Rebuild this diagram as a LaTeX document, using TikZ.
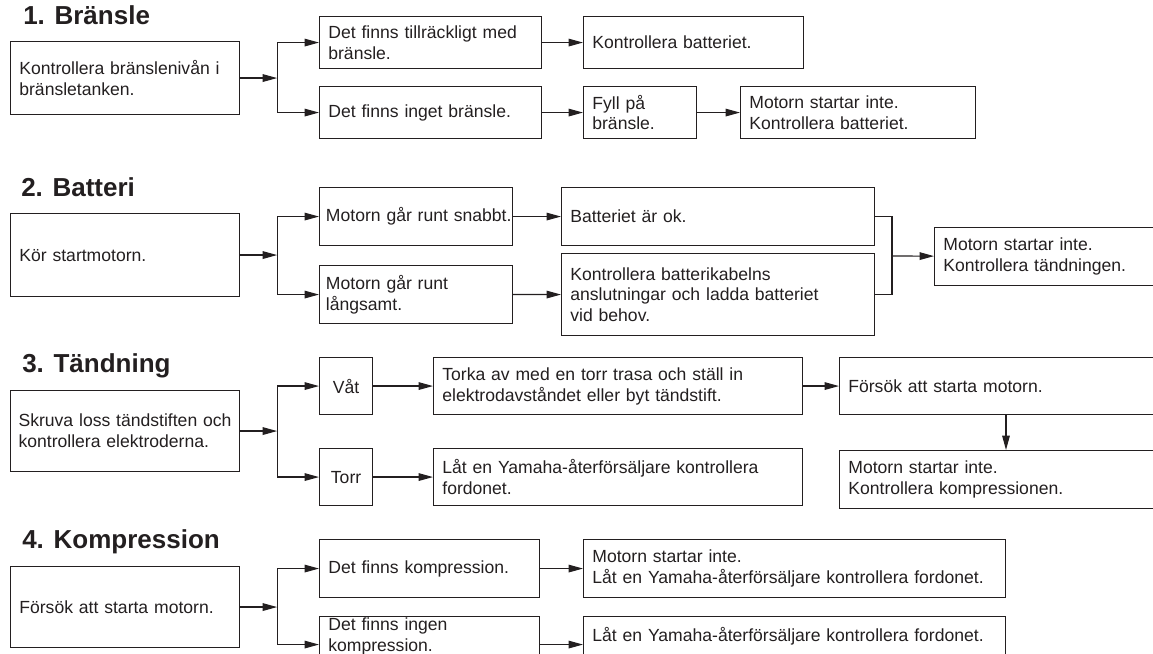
\documentclass[tikz,border=0pt]{standalone}
\usepackage{fontspec}
\setmainfont{Liberation Sans}
\usetikzlibrary{arrows.meta}
\definecolor{ink}{RGB}{35,31,32}
\tikzset{
    box/.style = {rectangle, draw=ink, line width=0.8pt, anchor=north west, align=left, inner xsep=0.22cm, inner ysep=0pt, text=ink, font=\fontsize{12.5}{14.8}\selectfont},
    heading/.style = {anchor=base west, inner sep=0pt, text=ink, font=\fontsize{18.5}{22}\selectfont\bfseries},
    arrow/.style = {draw=ink, line width=0.8pt, -{Triangle[length=0.36cm, width=0.19cm]}},
    line/.style = {draw=ink, line width=0.8pt}
}

\begin{document}
\begin{tikzpicture}
    \useasboundingbox (0, 0) rectangle (28.825, -16.35);
    \clip (0, 0) rectangle (28.825, -16.35);

    % 1. Bränsle
    \node (fuelhead) [heading] at (0.575, -0.625) {1. Bränsle};
    \node (fuelcheck) [box, text width=5.285cm, minimum height=1.825cm] at (0.25, -1.025) {Kontrollera bränslenivån i\\bränsletanken.};
    \node (fuelok) [box, text width=5.11cm, minimum height=1.3cm] at (7.975, -0.4) {Det finns tillräckligt med\\bränsle.};
    \node (fuelnone) [box, text width=5.11cm, minimum height=1.3cm] at (7.975, -2.15) {Det finns inget bränsle.};
    \node (battcheck) [box, text width=5.06cm, minimum height=1.3cm] at (14.575, -0.4) {Kontrollera batteriet.};
    \node (refuel) [box, text width=2.385cm, minimum height=1.3cm] at (14.575, -2.15) {Fyll på\\bränsle.};
    \node (nostartA) [box, text width=5.435cm, minimum height=1.3cm] at (18.5, -2.15) {Motorn startar inte.\\Kontrollera batteriet.};

    \coordinate (split1) at ([xshift=0.925cm]fuelcheck.east);
    \draw [arrow] (fuelcheck) -- (split1);
    \draw [arrow] (split1) |- (fuelok);
    \draw [arrow] (split1) |- (fuelnone);
    \draw [arrow] (fuelok) -- (battcheck);
    \draw [arrow] (fuelnone) -- (refuel);
    \draw [arrow] (refuel) -- (nostartA);

    % 2. Batteri
    \node (batthead) [heading] at (0.525, -4.925) {2. Batteri};
    \node (crank) [box, text width=5.285cm, minimum height=2.075cm] at (0.25, -5.325) {Kör startmotorn.};
    \node (fast) [box, inner xsep=0.16cm, text width=4.505cm, minimum height=1.45cm] at (7.975, -4.675) {\mbox{Motorn går runt snabbt.}};
    \node (slow) [box, inner xsep=0.16cm, text width=4.505cm, minimum height=1.45cm] at (7.975, -6.625) {Motorn går runt\\långsamt.};
    \node (battok) [box, text width=7.385cm, minimum height=1.45cm] at (14.025, -4.675) {Batteriet är ok.};
    \node (cables) [box, text width=7.385cm, minimum height=2.05cm] at (14.025, -6.325) {Kontrollera batterikabelns\\anslutningar och ladda batteriet\\vid behov.};
    \node (nostartB) [box, text width=6.06cm, minimum height=1.45cm] at (23.35, -5.675) {Motorn startar inte.\\Kontrollera tändningen.};

    \coordinate (split2) at ([xshift=0.925cm]crank.east);
    \coordinate (join2) at (22.3, -6.4);
    \draw [arrow] (crank) -- (split2);
    \draw [arrow] (split2) |- (fast);
    \draw [arrow] (split2) |- (slow);
    \draw [arrow] (fast) -- (battok);
    \draw [arrow] (slow) -- (cables);
    \draw [line] (battok) -| (join2);
    \draw [line] (cables) -| (join2);
    \draw [arrow] (join2) -- (nostartB);

    % 3. Tändning
    \node (sparkhead) [heading] at (0.55, -9.325) {3. Tändning};
    \node (plugs) [box, inner xsep=0.2cm, text width=5.325cm, minimum height=2.025cm] at (0.25, -9.75) {\mbox{Skruva loss tändstiften och}\\kontrollera elektroderna.};
    \node (wet) [box, align=center, text width=0.885cm, minimum height=1.425cm] at (7.975, -8.925) {Våt};
    \node (dry) [box, align=center, text width=0.885cm, minimum height=1.425cm] at (7.975, -11.2) {Torr};
    \node (clean) [box, text width=8.785cm, minimum height=1.425cm] at (10.825, -8.925) {Torka av med en torr trasa och ställ in\\elektrodavståndet eller byt tändstift.};
    \node (dealer3) [box, text width=8.785cm, minimum height=1.425cm] at (10.825, -11.2) {Låt en Yamaha-återförsäljare kontrollera\\fordonet.};
    \node (retry3) [box, text width=7.81cm, minimum height=1.425cm] at (20.975, -8.925) {Försök att starta motorn.};
    \node (nostartC) [box, text width=7.81cm, minimum height=1.45cm] at (20.975, -11.25) {Motorn startar inte.\\Kontrollera kompressionen.};

    \coordinate (split3) at ([xshift=0.925cm]plugs.east);
    \draw [arrow] (plugs) -- (split3);
    \draw [arrow] (split3) |- (wet);
    \draw [arrow] (split3) |- (dry);
    \draw [arrow] (wet) -- (clean);
    \draw [arrow] (dry) -- (dealer3);
    \draw [arrow] (clean) -- (retry3);
    \draw [arrow] ([xshift=4.175cm]retry3.south west) -- ([xshift=4.175cm]nostartC.north west);

    % 4. Kompression
    \node (comphead) [heading] at (0.55, -13.725) {4. Kompression};
    \node (trystart) [box, text width=5.285cm, minimum height=2.025cm] at (0.25, -14.15) {Försök att starta motorn.};
    \node (comp) [box, text width=5.06cm, minimum height=1.45cm] at (7.975, -13.475) {Det finns kompression.};
    \node (nocomp) [box, text width=5.06cm, minimum height=0.975cm] at (7.975, -15.4) {Det finns ingen\\kompression.};
    \node (nostartD) [box, text width=10.11cm, minimum height=1.45cm] at (14.575, -13.475) {Motorn startar inte.\\Låt en Yamaha-återförsäljare kontrollera fordonet.};
    \node (dealer4) [box, text width=10.11cm, minimum height=0.975cm] at (14.575, -15.4) {Låt en Yamaha-återförsäljare kontrollera fordonet.};

    \coordinate (split4) at ([xshift=0.925cm]trystart.east);
    \draw [arrow] (trystart) -- (split4);
    \draw [arrow] (split4) |- (comp);
    \draw [arrow] (split4) |- ([yshift=-0.2125cm]nocomp.west);
    \draw [arrow] (comp) -- (nostartD);
    \draw [arrow] ([yshift=-0.2125cm]nocomp.east) -- ([yshift=-0.2125cm]dealer4.west);
\end{tikzpicture}
\end{document}
